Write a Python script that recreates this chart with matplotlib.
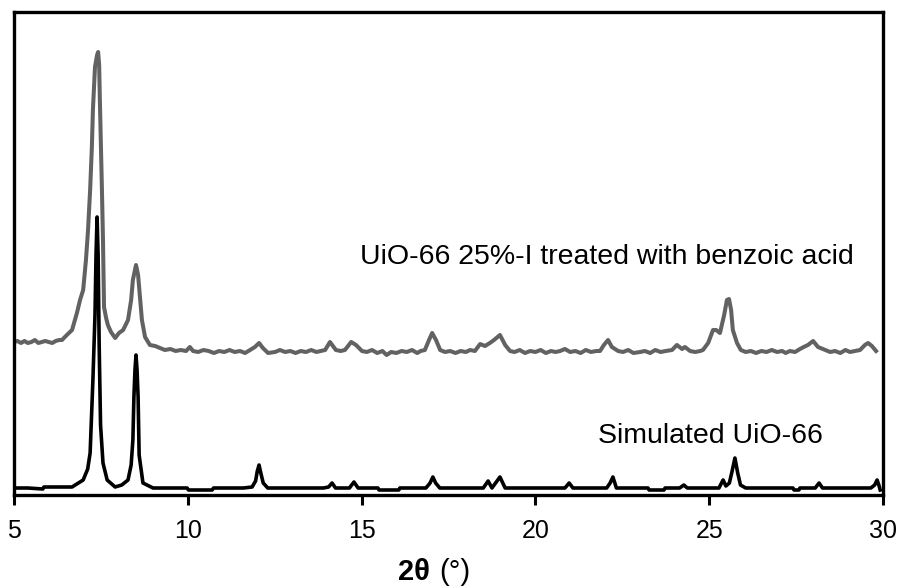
import matplotlib
matplotlib.use("Agg")
import matplotlib.pyplot as plt

plt.rcParams['font.family'] = ['Liberation Sans', 'DejaVu Sans']

# Simulated UiO-66 pattern (2theta in degrees, intensity in a.u.)
sim_2theta = [5.00, 5.40, 5.83, 5.86, 6.30, 6.67, 6.99, 7.12, 7.19, 7.27, 7.33, 7.36, 7.39, 7.42, 7.45,
              7.49, 7.56, 7.68, 7.91, 8.10, 8.28, 8.37, 8.42, 8.45, 8.48, 8.51, 8.54, 8.57, 8.60,
              8.71, 9.00, 9.98, 10.02, 10.70, 10.74, 11.60, 11.85, 11.95, 12.00, 12.05, 12.10, 12.17,
              12.30, 13.90, 14.05, 14.15, 14.25, 14.65, 14.78, 14.90, 15.47, 15.50, 16.07, 16.10,
              16.85, 16.97, 17.05, 17.13, 17.25, 18.50, 18.64, 18.75, 18.98, 19.13, 19.25, 20.85,
              20.97, 21.08, 22.05, 22.15, 22.23, 22.33, 23.24, 23.27, 23.70, 23.73, 24.15, 24.27,
              24.37, 25.28, 25.40, 25.48, 25.58, 25.66, 25.74, 25.82, 25.90, 26.05, 27.41, 27.44,
              27.58, 27.61, 28.05, 28.16, 28.26, 29.65, 29.76, 29.83, 29.88, 29.92]
sim_int = [7, 7, 6, 8, 8, 8, 15, 26, 42, 115, 180, 240, 278, 240, 150,
           70, 32, 15, 8, 10, 15, 30, 55, 98, 125, 140, 125, 98, 40,
           12, 7, 7, 5, 5, 7, 7, 8, 14, 24, 30, 22, 12,
           7, 7, 8, 12, 7, 7, 13, 7, 7, 5, 5, 7,
           7, 12, 18, 12, 7, 7, 14, 7, 18, 7, 7, 7,
           12, 7, 7, 12, 18, 7, 7, 5, 5, 7, 7, 10,
           7, 7, 15, 9, 12, 24, 37, 22, 10, 7, 7, 5,
           5, 7, 7, 12, 7, 7, 10, 15, 10, 5]

# UiO-66 25%-I after benzoic acid treatment
exp_2theta = [5.00, 5.10, 5.20, 5.30, 5.40, 5.50, 5.60, 5.70, 5.80, 5.90, 6.00, 6.10, 6.20, 6.30,
              6.38, 6.52, 6.67, 6.81, 6.90, 6.99, 7.07, 7.13, 7.19, 7.24, 7.27, 7.33, 7.39, 7.42,
              7.45, 7.47, 7.53, 7.56, 7.59, 7.65, 7.70, 7.79, 7.91, 8.02, 8.14, 8.28, 8.37, 8.42,
              8.51, 8.57, 8.63, 8.68, 8.77, 8.91, 9.06, 9.20, 9.34, 9.50, 9.65, 9.80, 9.95, 10.06,
              10.15, 10.30, 10.45, 10.60, 10.75, 10.90, 11.05, 11.20, 11.35, 11.50, 11.65, 11.79,
              11.93, 12.05, 12.16, 12.31, 12.51, 12.65, 12.80, 12.95, 13.10, 13.25, 13.40, 13.55,
              13.70, 13.82, 13.95, 14.09, 14.26, 14.40, 14.52, 14.70, 14.84, 15.01, 15.15, 15.30,
              15.45, 15.60, 15.72, 15.85, 16.00, 16.15, 16.30, 16.45, 16.60, 16.70, 16.82, 16.94,
              17.03, 17.14, 17.26, 17.40, 17.55, 17.70, 17.85, 18.00, 18.12, 18.26, 18.41, 18.55,
              18.69, 18.81, 18.98, 19.13, 19.27, 19.40, 19.55, 19.70, 19.85, 20.00, 20.15, 20.30,
              20.45, 20.58, 20.71, 20.85, 21.00, 21.15, 21.30, 21.45, 21.60, 21.75, 21.86, 21.97,
              22.09, 22.20, 22.38, 22.52, 22.67, 22.82, 23.01, 23.15, 23.30, 23.45, 23.60, 23.75,
              23.93, 24.07, 24.22, 24.30, 24.45, 24.60, 24.74, 24.82, 24.97, 25.11, 25.20, 25.31,
              25.43, 25.51, 25.57, 25.63, 25.68, 25.80, 25.91, 26.05, 26.20, 26.35, 26.50, 26.65,
              26.80, 26.95, 27.10, 27.20, 27.32, 27.47, 27.61, 27.72, 27.84, 27.99, 28.13, 28.27,
              28.48, 28.62, 28.77, 28.92, 29.05, 29.20, 29.34, 29.48, 29.57, 29.68, 29.80]
exp_int = [153, 154, 152, 154, 152, 153, 155, 152, 153, 154, 153, 152, 154, 155,
           155, 160, 165, 182, 195, 205, 235, 265, 305, 348, 385, 428, 440, 443,
           430, 395, 305, 255, 188, 177, 170, 163, 157, 162, 165, 175, 195, 215,
           230, 220, 195, 175, 158, 150, 149, 147, 145, 146, 144, 145, 144, 148,
           144, 143, 145, 144, 142, 144, 143, 145, 143, 144, 142, 145,
           148, 152, 147, 142, 143, 145, 143, 144, 142, 144, 143, 145,
           143, 144, 145, 153, 145, 144, 145, 153, 150, 144, 143, 145,
           142, 144, 140, 143, 142, 144, 143, 145, 142, 144, 145, 155,
           162, 155, 145, 143, 144, 142, 144, 143, 145, 144, 151, 149,
           152, 155, 160, 150, 144, 143, 145, 142, 144, 143, 145, 142,
           144, 143, 144, 146, 143, 144, 142, 145, 143, 144, 144, 150,
           155, 148, 144, 143, 145, 142, 143, 144, 142, 145, 143, 144,
           145, 150, 146, 148, 144, 143, 144, 145, 152, 165, 165, 162,
           180, 195, 196, 185, 165, 152, 145, 143, 144, 142, 144, 143,
           145, 143, 144, 142, 144, 143, 146, 148, 150, 154, 148, 146,
           143, 144, 142, 145, 143, 144, 145, 150, 152, 149, 144]

fig = plt.figure(figsize=(9.09, 5.88), dpi=100)
ax = fig.add_axes([14 / 909, 93 / 588, 869 / 909, 483 / 588])

ax.plot(sim_2theta, sim_int, color='black', lw=2.6, solid_joinstyle='round')
ax.plot(exp_2theta, exp_int, color='#626262', lw=2.9, solid_joinstyle='round')

ax.text(14.95, 238, 'UiO-66 25%-I treated with benzoic acid', fontsize=20.5, va='center', ha='left')
ax.text(21.8, 59, 'Simulated UiO-66', fontsize=20.5, va='center', ha='left')

ax.set_xlim(5, 30)
ax.set_ylim(0, 483)
ax.set_yticks([])
ax.set_xticks([5, 10, 15, 20, 25, 30])
ax.tick_params(axis='x', direction='out', length=7, width=2.2, labelsize=18, pad=10)
for s in ax.spines.values():
    s.set_linewidth(2.4)

# axis title: bold 2θ, plain unit
fig.text(398 / 909, 1 - 572 / 588, '2θ', fontsize=21, fontweight='bold', ha='left', va='center')
fig.text(439 / 909, 1 - 572 / 588, '(°)', fontsize=21, ha='left', va='center')

fig.savefig('out.png', dpi=100)
